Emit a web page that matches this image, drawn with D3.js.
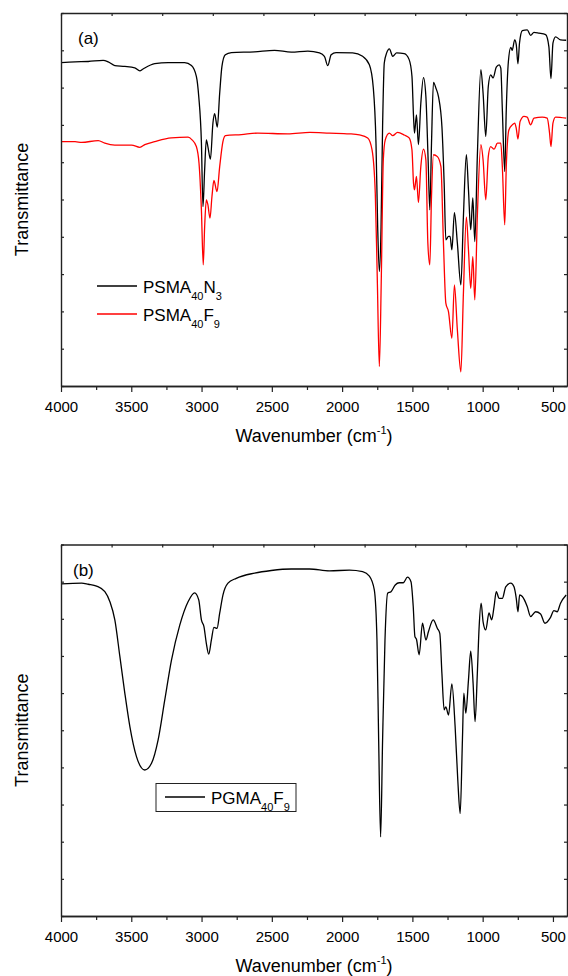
<!DOCTYPE html>
<html>
<head>
<meta charset="utf-8">
<script src="https://cdn.jsdelivr.net/npm/d3@7"></script>
<style>
html, body { margin: 0; padding: 0; background: #fff; }
svg { display: block; font-family: "Liberation Sans", Arial, sans-serif; }
</style>
</head>
<body>
<svg id="chart" width="568" height="976"></svg>
<script>
// x axis labels (wavenumber, cm-1)
var wavenumberTicks = [4000, 3500, 3000, 2500, 2000, 1500, 1000, 500];
var wavenumberMinor = [3750, 3250, 2750, 2250, 1750, 1250, 750];

// panel (a) - PSMA40N3, [wavenumber, transmittance (arb. %)]
var psmaN3 = [
  [4000,86.7],[3900,86.9],[3806,87.0],[3700,87.3],[3664,86.9],[3617,85.9],[3546,85.7],
  [3475,85.3],[3439,84.5],[3416,85.0],[3333,86.4],[3238,86.7],[3120,86.7],[3072,85.9],
  [3037,83.0],[3020,77.6],[3001,65.2],[2990,48.1],[2978,58.0],[2966,66.0],[2955,64.2],
  [2937,60.8],[2919,70.5],[2907,73.0],[2888,69.4],[2871,78.5],[2855,85.7],[2831,88.8],
  [2788,89.4],[2623,89.6],[2481,90.0],[2362,89.5],[2244,89.8],[2161,89.3],[2126,88.4],
  [2102,85.9],[2078,88.8],[2043,89.4],[1925,89.3],[1854,88.4],[1806,86.1],[1778,79.9],
  [1759,65.2],[1747,42.7],[1735,30.7],[1723,42.7],[1712,69.6],[1700,86.6],[1683,89.3],
  [1664,90.4],[1640,88.4],[1612,89.3],[1558,89.1],[1523,87.5],[1503,83.0],[1492,72.3],
  [1485,67.8],[1471,72.7],[1457,64.7],[1440,75.8],[1421,82.7],[1404,77.6],[1388,60.6],
  [1376,47.2],[1364,65.1],[1350,81.4],[1333,79.9],[1314,77.5],[1290,69.6],[1274,54.4],
  [1262,39.2],[1243,40.1],[1232,40.1],[1219,36.5],[1201,46.5],[1180,38.3],[1155,27.1],
  [1137,45.4],[1116,62.0],[1101,52.6],[1085,41.9],[1070,50.4],[1056,38.7],[1038,61.5],
  [1013,84.8],[997,78.5],[978,66.9],[960,80.3],[943,83.4],[926,82.6],[903,85.5],
  [883,86.1],[871,85.2],[860,74.1],[843,57.5],[832,74.1],[817,87.0],[800,90.8],
  [790,90.0],[772,92.8],[761,91.5],[749,86.4],[738,91.9],[718,95.3],[683,95.5],
  [659,94.0],[635,94.8],[600,94.6],[552,94.2],[529,91.0],[514,82.4],[500,91.9],
  [481,93.6],[446,92.8],[406,92.7]
];

// panel (a) - PSMA40F9
var psmaF9 = [
  [4000,65.5],[3900,65.5],[3853,65.3],[3735,65.8],[3688,65.1],[3617,64.6],[3498,64.6],
  [3439,64.0],[3404,64.7],[3333,65.5],[3215,66.5],[3096,66.7],[3068,66.0],[3037,64.2],
  [3018,59.7],[3001,47.2],[2988,32.5],[2978,42.7],[2966,49.9],[2955,48.6],[2940,45.0],
  [2926,50.8],[2912,55.1],[2890,52.1],[2871,58.8],[2848,65.5],[2830,67.1],[2717,67.4],
  [2601,67.8],[2386,67.6],[2229,68.0],[2090,67.8],[1948,67.6],[1877,67.3],[1818,66.5],
  [1787,63.3],[1764,51.7],[1750,29.3],[1735,5.2],[1721,29.3],[1707,60.6],[1693,66.0],
  [1664,67.8],[1640,67.1],[1605,68.0],[1558,67.3],[1523,66.5],[1503,63.3],[1492,54.4],
  [1485,52.6],[1471,56.2],[1457,49.2],[1440,58.8],[1421,63.5],[1404,60.6],[1390,38.3],
  [1376,32.5],[1364,50.8],[1350,62.0],[1322,61.5],[1297,58.8],[1279,38.3],[1262,22.2],
  [1243,19.9],[1219,12.8],[1201,27.1],[1180,15.0],[1155,3.8],[1137,24.9],[1116,45.3],
  [1101,36.5],[1085,26.2],[1070,34.7],[1056,23.1],[1038,45.4],[1013,64.7],[997,60.6],
  [978,49.9],[960,61.5],[943,64.2],[919,63.5],[895,65.1],[871,65.1],[860,58.8],
  [843,43.2],[832,58.8],[813,68.7],[789,70.0],[772,70.5],[761,69.1],[749,66.2],
  [734,70.9],[706,72.3],[683,72.1],[659,70.0],[635,71.8],[576,72.1],[541,71.8],
  [524,67.8],[514,64.2],[500,70.5],[481,72.1],[406,71.8]
];

// panel (b) - PGMA40F9
var pgmaF9 = [
  [4000,89.4],[3853,89.6],[3806,89.3],[3747,88.8],[3688,87.3],[3652,84.6],[3617,79.7],
  [3581,69.8],[3546,60.0],[3510,51.0],[3463,42.9],[3404,39.3],[3356,41.1],[3309,47.4],
  [3262,58.1],[3214,68.9],[3155,78.3],[3096,84.6],[3049,87.0],[3020,85.1],[3001,79.7],
  [2983,77.9],[2966,73.4],[2949,70.5],[2930,74.3],[2912,77.7],[2890,77.4],[2871,81.5],
  [2848,86.4],[2812,89.6],[2753,90.9],[2623,92.3],[2504,93.0],[2362,93.4],[2232,93.4],
  [2090,92.9],[1948,93.1],[1854,92.7],[1806,91.5],[1771,87.8],[1752,74.3],[1740,47.4],
  [1726,21.3],[1712,47.4],[1695,74.3],[1676,86.9],[1652,87.3],[1622,89.1],[1594,89.7],
  [1565,89.7],[1535,91.2],[1510,90.0],[1494,83.3],[1482,75.2],[1471,74.5],[1452,70.3],
  [1428,78.8],[1404,74.3],[1386,76.5],[1352,79.7],[1322,77.4],[1305,76.1],[1290,65.3],
  [1274,55.5],[1262,56.3],[1243,54.1],[1219,62.5],[1196,51.0],[1177,36.6],[1160,27.6],
  [1144,47.4],[1134,60.0],[1120,54.6],[1101,63.5],[1085,71.3],[1068,62.6],[1054,52.3],
  [1038,65.3],[1025,77.9],[1011,84.2],[997,79.2],[978,77.0],[955,81.6],[936,79.7],
  [919,83.3],[903,87.3],[883,85.5],[860,85.5],[836,88.6],[800,89.6],[777,88.6],
  [761,85.5],[749,81.9],[737,86.4],[718,86.0],[683,83.3],[659,80.6],[623,81.9],
  [588,81.3],[557,78.8],[517,80.4],[493,82.2],[470,81.9],[446,84.2],[406,86.4]
];

var svg = d3.select("#chart");
var left = 61, right = 567;

function drawPanel(p) {
    var x = d3.scaleLinear().domain([4000, 400]).range([left, right]);
    var y = d3.scaleLinear().domain([0, 100]).range([p.bottom, p.top]);
    var g = svg.append("g");

    // spectra
    var line = d3.line()
        .x(function (d) { return x(d[0]); })
        .y(function (d) { return y(d[1]); })
        .curve(d3.curveMonotoneX);
    p.series.forEach(function (s) {
        g.append("path").datum(s.data)
            .attr("fill", "none")
            .attr("stroke", s.color)
            .attr("stroke-width", 1.3)
            .attr("stroke-linejoin", "round")
            .attr("d", line);
    });

    // frame ticks: top/left/right split into 10 equal parts, inward
    var topTicks = d3.range(0, 11).map(function (i) { return 4000 - i * 360; });
    g.append("g").attr("transform", "translate(0," + p.top + ")")
        .call(d3.axisTop(x).tickValues(topTicks).tickSize(-3).tickSizeOuter(0).tickFormat(""));
    g.append("g").attr("transform", "translate(" + left + ",0)")
        .call(d3.axisLeft(y).tickValues(d3.range(0, 101, 10)).tickSize(-3).tickSizeOuter(0).tickFormat(""));
    g.append("g").attr("transform", "translate(" + right + ",0)")
        .call(d3.axisRight(y).tickValues(d3.range(0, 101, 10)).tickSize(-3).tickSizeOuter(0).tickFormat(""));

    // bottom axis, major + minor ticks outward
    g.append("g").attr("transform", "translate(0," + p.bottom + ")")
        .call(d3.axisBottom(x).tickValues(wavenumberMinor).tickSize(4).tickSizeOuter(0).tickFormat(""));
    var ax = g.append("g").attr("transform", "translate(0," + p.bottom + ")")
        .call(d3.axisBottom(x).tickValues(wavenumberTicks).tickSize(6).tickSizeOuter(0).tickPadding(9).tickFormat(d3.format("d")));
    ax.selectAll("text").attr("font-size", "15px").attr("fill", "#000")
        .attr("font-family", "Liberation Sans, Arial, sans-serif");

    g.selectAll(".domain").attr("stroke", "#222").attr("stroke-width", 1.4);
    g.selectAll(".tick line").attr("stroke", "#222").attr("stroke-width", 1.2);

    // panel label
    g.append("text").text(p.label)
        .attr("x", p.labelX).attr("y", p.top + 31)
        .attr("font-size", "17px");

    // axis titles
    var xt = g.append("text")
        .attr("x", (left + right) / 2).attr("y", p.bottom + 56)
        .attr("text-anchor", "middle").attr("font-size", "18px");
    xt.append("tspan").text("Wavenumber (cm");
    xt.append("tspan").text("-1").attr("font-size", "11px").attr("dy", -8);
    xt.append("tspan").text(")").attr("dy", 8);

    g.append("text").text("Transmittance")
        .attr("transform", "translate(28," + (p.top + p.bottom) / 2 + ") rotate(-90)")
        .attr("text-anchor", "middle").attr("font-size", "18px");

    // legend
    var lg = g.append("g");
    if (p.legendBox) {
        lg.append("rect")
            .attr("x", p.legendBox[0]).attr("y", p.legendBox[1])
            .attr("width", p.legendBox[2]).attr("height", p.legendBox[3])
            .attr("fill", "none").attr("stroke", "#222").attr("stroke-width", 1);
    }
    p.series.forEach(function (s, i) {
        var ly = p.legendY + i * 28;
        lg.append("line")
            .attr("x1", p.legendX).attr("x2", p.legendX + 40)
            .attr("y1", ly).attr("y2", ly)
            .attr("stroke", s.color).attr("stroke-width", 1.5);
        var t = lg.append("text")
            .attr("x", p.legendX + 46).attr("y", ly + 7)
            .attr("font-size", "17px");
        t.append("tspan").text(s.name[0]);
        t.append("tspan").text(s.name[1]).attr("font-size", "11px").attr("dy", 7);
        t.append("tspan").text(s.name[2]).attr("dy", -7);
        t.append("tspan").text(s.name[3]).attr("font-size", "11px").attr("dy", 7);
    });
}

drawPanel({
    top: 13, bottom: 386, label: "(a)", labelX: 78,
    series: [
        { name: ["PSMA", "40", "N", "3"], color: "#000", data: psmaN3 },
        { name: ["PSMA", "40", "F", "9"], color: "#ff0000", data: psmaF9 }
    ],
    legendX: 97, legendY: 286
});

drawPanel({
    top: 544.5, bottom: 916, label: "(b)", labelX: 73,
    series: [
        { name: ["PGMA", "40", "F", "9"], color: "#000", data: pgmaF9 }
    ],
    legendX: 165, legendY: 797,
    legendBox: [156, 783.5, 140, 28]
});
</script>
</body>
</html>
